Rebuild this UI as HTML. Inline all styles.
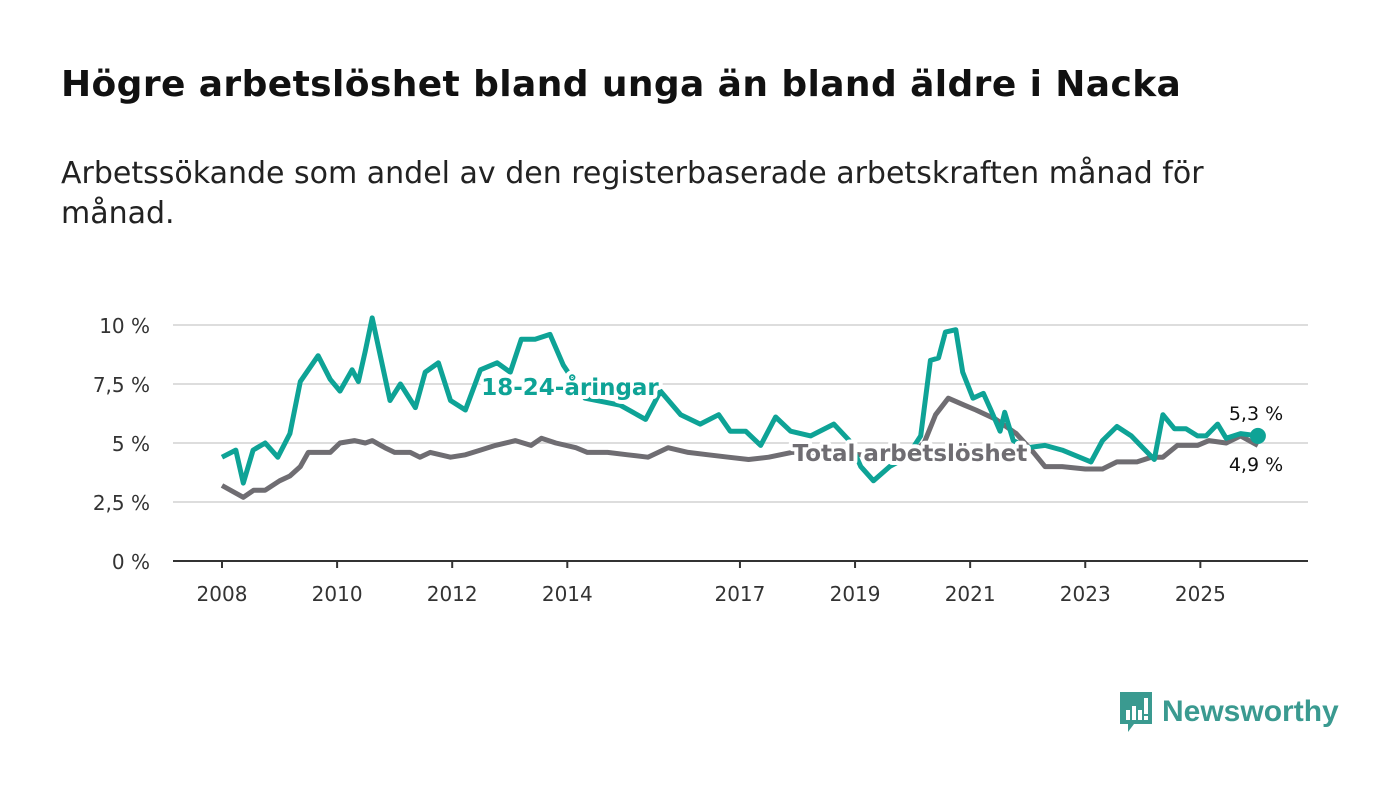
<!DOCTYPE html>
<html><head><meta charset="utf-8">
<style>
body{margin:0;width:1400px;height:794px;background:#fff;font-family:"DejaVu Sans","Liberation Sans",sans-serif;overflow:hidden;position:relative}
h1{position:absolute;left:61px;top:64px;margin:0;font-size:36px;font-weight:bold;color:#111;letter-spacing:0.4px}
.sub{position:absolute;left:61px;top:154px;width:1240px;margin:0;font-size:30px;line-height:40px;color:#222}
svg{position:absolute;left:0;top:0}
.logo{position:absolute;left:1118px;top:690px;display:flex;align-items:center}
.logo span{font-family:"Liberation Sans",sans-serif;font-size:30px;font-weight:bold;color:#3a9a90;margin-left:8px}
</style></head><body>
<h1>Högre arbetslöshet bland unga än bland äldre i Nacka</h1>
<p class="sub">Arbetssökande som andel av den registerbaserade arbetskraften månad för månad.</p>
<svg id="chart" width="1400" height="794"></svg>
<div class="logo">
<svg width="36" height="44" viewBox="0 0 36 44" style="position:static"><path d="M2 2h32v32H16l-6 8v-8H2z" fill="#3a9a90"/><rect x="8" y="20" width="4" height="10" fill="#fff"/><rect x="14" y="16" width="4" height="14" fill="#fff"/><rect x="20" y="20" width="4" height="10" fill="#fff"/><rect x="26" y="8" width="4" height="16" fill="#fff"/><rect x="26" y="26" width="4" height="4" fill="#fff"/></svg>
<span>Newsworthy</span></div>
<script>
const yTicks=[0,2.5,5,7.5,10];
const yTickLabels=["0 %","2,5 %","5 %","7,5 %","10 %"];
const xTicks=[2008,2010,2012,2014,2017,2019,2021,2023,2025];
const youthYears=[2008.0,2008.24,2008.37,2008.54,2008.75,2008.97,2009.18,2009.36,2009.67,2009.88,2010.05,2010.26,2010.37,2010.49,2010.61,2010.75,2010.92,2011.1,2011.36,2011.53,2011.76,2011.97,2012.23,2012.49,2012.78,2013.01,2013.2,2013.44,2013.7,2013.93,2014.31,2014.92,2015.36,2015.62,2015.97,2016.31,2016.63,2016.83,2017.1,2017.36,2017.62,2017.88,2018.23,2018.63,2018.9,2019.1,2019.32,2019.6,2019.9,2020.14,2020.31,2020.45,2020.57,2020.75,2020.87,2021.05,2021.23,2021.36,2021.52,2021.6,2021.75,2022.0,2022.3,2022.6,2022.9,2023.1,2023.3,2023.55,2023.8,2024.0,2024.2,2024.35,2024.55,2024.75,2024.95,2025.1,2025.3,2025.45,2025.7,2026.0];
const youthValues=[4.4,4.7,3.3,4.7,5.0,4.4,5.4,7.6,8.7,7.7,7.2,8.1,7.6,8.9,10.3,8.7,6.8,7.5,6.5,8.0,8.4,6.8,6.4,8.1,8.4,8.0,9.4,9.4,9.6,8.3,6.9,6.6,6.0,7.2,6.2,5.8,6.2,5.5,5.5,4.9,6.1,5.5,5.3,5.8,5.1,4.0,3.4,4.0,4.4,5.3,8.5,8.6,9.7,9.8,8.0,6.9,7.1,6.4,5.5,6.3,5.1,4.8,4.9,4.7,4.4,4.2,5.1,5.7,5.3,4.8,4.3,6.2,5.6,5.6,5.3,5.3,5.8,5.2,5.4,5.3];
const totalYears=[2008.0,2008.37,2008.55,2008.75,2009.0,2009.18,2009.36,2009.5,2009.88,2010.05,2010.3,2010.49,2010.61,2010.83,2011.0,2011.27,2011.44,2011.62,2011.97,2012.23,2012.49,2012.75,2013.1,2013.37,2013.55,2013.8,2014.15,2014.35,2014.7,2015.05,2015.4,2015.75,2016.1,2016.45,2016.8,2017.15,2017.5,2017.9,2018.3,2018.7,2019.1,2019.5,2019.9,2020.2,2020.4,2020.62,2020.9,2021.1,2021.45,2021.8,2022.1,2022.3,2022.6,2023.0,2023.3,2023.55,2023.9,2024.15,2024.35,2024.6,2024.95,2025.15,2025.45,2025.7,2026.0];
const totalValues=[3.2,2.7,3.0,3.0,3.4,3.6,4.0,4.6,4.6,5.0,5.1,5.0,5.1,4.8,4.6,4.6,4.4,4.6,4.4,4.5,4.7,4.9,5.1,4.9,5.2,5.0,4.8,4.6,4.6,4.5,4.4,4.8,4.6,4.5,4.4,4.3,4.4,4.6,4.6,4.6,4.5,4.3,4.4,5.0,6.2,6.9,6.6,6.4,6.0,5.4,4.6,4.0,4.0,3.9,3.9,4.2,4.2,4.4,4.4,4.9,4.9,5.1,5.0,5.3,4.9];
const NS="http://www.w3.org/2000/svg";
const svg=document.getElementById('chart');
const X0=173,X1=1308,Y0=561,Y1=325;
const x=y=>222+(y-2008)*57.55;
const yv=v=>Y0-(v/10)*(Y0-Y1);
function mk(t,a){const e=document.createElementNS(NS,t);for(const k in a)e.setAttribute(k,a[k]);svg.appendChild(e);return e;}
yTicks.forEach((v,i)=>{
 if(v>0){const g=mk('line',{x1:X0,x2:X1,y1:yv(v),y2:yv(v),stroke:'#ddd','stroke-width':2});
 
 }
 const t=mk('text',{x:150,y:yv(v)+8,'text-anchor':'end','font-size':20,fill:'#333'});t.textContent=yTickLabels[i];
 
 
});
const ax=mk('line',{x1:X0,x2:X1,y1:Y0,y2:Y0,stroke:'#333','stroke-width':2});


xTicks.forEach(yr=>{
 const tk=mk('line',{x1:x(yr),x2:x(yr),y1:Y0,y2:Y0+7,stroke:'#333','stroke-width':2});
 
 
 const t=mk('text',{x:x(yr),y:Y0+40,'text-anchor':'middle','font-size':20,fill:'#333'});t.textContent=yr;
 
 
});
function line(ys,vs,col,name){
 const d=ys.map((yr,i)=>(i?'L':'M')+x(yr).toFixed(1)+' '+yv(vs[i]).toFixed(1)).join(' ');
 const p=mk('path',{d:d,fill:'none',stroke:col,'stroke-width':5,'stroke-linejoin':'round'});
 
 
}
line(totalYears,totalValues,'#6f6d72','total-line');
line(youthYears,youthValues,'#0ea396','youth-line');
const d1=mk('circle',{cx:x(2026),cy:yv(youthValues[youthValues.length-1]),r:8,fill:'#0ea396'});


function lab(tx,xx,yy,col,sz,w,anchor,name){
 const t=mk('text',{x:xx,y:yy,'font-size':sz,'font-weight':w,fill:col,stroke:'#fff','stroke-width':8,'paint-order':'stroke','stroke-linejoin':'round','text-anchor':anchor});
 t.textContent=tx;
 
 
}
lab('18-24-åringar',570,395,'#0ea396',23,'bold','middle','youth-series-label');
lab('Total arbetslöshet',910,461,'#6f6d72',23,'bold','middle','total-series-label');
lab('5,3 %',1256,420,'#111',19,'normal','middle','youth-end-value');
lab('4,9 %',1256,471,'#111',19,'normal','middle','total-end-value');
</script>
</body></html>
